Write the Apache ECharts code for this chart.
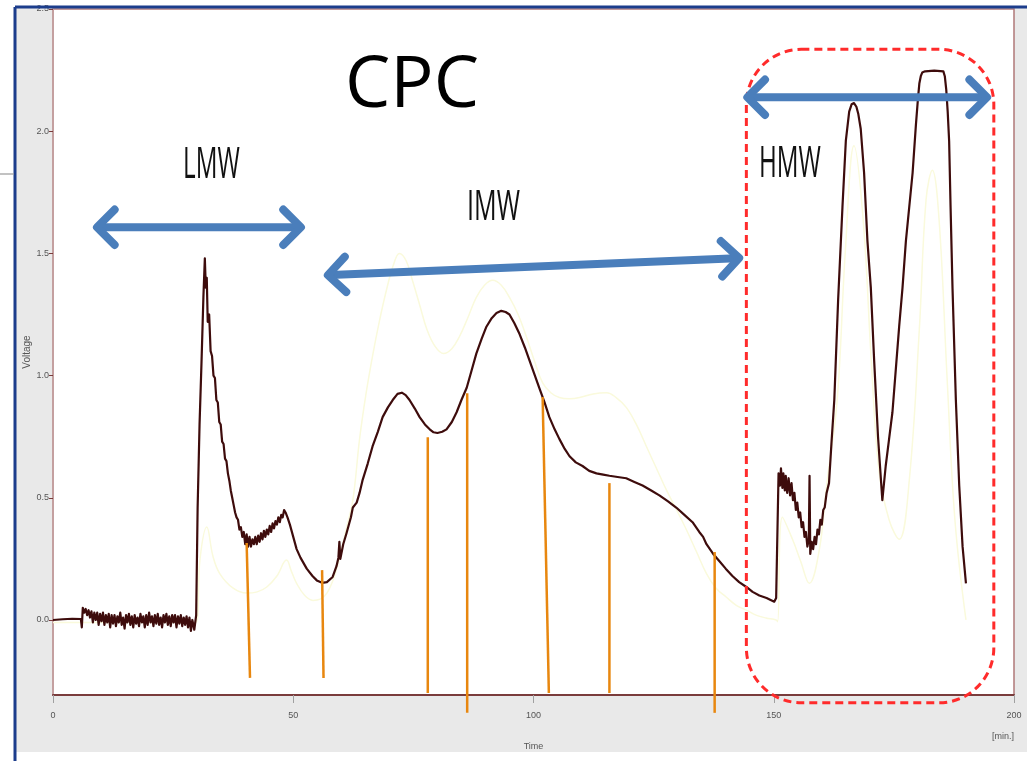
<!DOCTYPE html>
<html><head><meta charset="utf-8">
<script src="https://cdn.jsdelivr.net/npm/echarts@6/dist/echarts.min.js"></script>
<style>html,body{margin:0;padding:0;background:#fff}#c{width:1027px;height:761px}</style>
</head><body><div id="c"></div>
<script>
// ---- axis ticks ----
const xTicks = [0, 50, 100, 150, 200];
const yTicks = [0, 0.5, 1.0, 1.5, 2.0, 2.5];

// ---- main detector trace (time [min], voltage) ----
const mainTrace = [
[0,0.0],[2,0.003],[4,0.005],[5.8,0.004],[6.0,-0.03],[6.2,0.05],[6.5,0.03],[6.8,0.045],[7.1,0.02],[7.4,0.04],[7.7,0.01],[8.0,0.035],[8.3,-0.01],[8.6,0.03],[8.9,0.0],[9.2,0.03],[9.5,-0.02],[9.8,0.025],[10.1,-0.005],[10.4,0.03],[10.7,-0.02],[11.0,0.02],[11.3,-0.01],[11.6,0.025],[11.9,-0.03],[12.2,0.02],[12.5,-0.015],[12.8,0.02],[13.1,-0.025],[13.4,0.015],[13.7,-0.01],[14.0,0.03],[14.3,-0.02],[14.6,0.01],[14.9,-0.035],[15.2,0.02],[15.5,-0.01],[15.8,0.025],[16.1,-0.02],[16.4,0.015],[16.7,-0.03],[17.0,0.02],[17.3,-0.015],[17.6,0.01],[17.9,-0.025],[18.2,0.025],[18.5,-0.01],[18.8,0.015],[19.1,-0.03],[19.4,0.02],[19.7,-0.02],[20.0,0.03],[20.3,-0.01],[20.6,0.015],[20.9,-0.025],[21.2,0.02],[21.5,-0.015],[21.8,0.025],[22.1,-0.02],[22.4,0.01],[22.7,-0.03],[23.0,0.02],[23.3,-0.01],[23.6,0.025],[23.9,-0.02],[24.2,0.015],[24.5,-0.025],[24.8,0.02],[25.1,-0.01],[25.4,0.02],[25.7,-0.03],[26.0,0.015],[26.3,-0.015],[26.6,0.02],[26.9,-0.025],[27.2,0.01],[27.5,-0.02],[27.8,0.015],[28.1,-0.03],[28.4,0.01],[28.7,-0.045],[29.0,0.0],[29.4,-0.04],[29.8,0.02],
[30.1,0.46],[30.5,0.8],[30.9,1.05],[31.3,1.32],[31.6,1.48],[31.8,1.36],[32.0,1.40],[32.2,1.22],[32.5,1.25],[32.8,1.10],[33.1,1.08],[33.4,1.00],[33.7,0.99],[34.0,0.90],[34.3,0.89],[34.6,0.81],[34.9,0.80],[35.2,0.73],[35.5,0.72],[35.8,0.66],[36.1,0.65],[36.4,0.60],[36.7,0.57],[37.0,0.53],[37.3,0.50],[37.6,0.47],[37.9,0.44],[38.2,0.42],[38.5,0.41],[38.8,0.37],[39.1,0.38],[39.4,0.34],[39.7,0.36],[40.0,0.31],[40.3,0.35],[40.6,0.30],[40.9,0.34],[41.2,0.30],[41.5,0.33],[41.8,0.31],[42.1,0.34],[42.4,0.31],[42.7,0.345],[43.0,0.32],[43.3,0.355],[43.6,0.33],[43.9,0.365],[44.2,0.34],[44.5,0.37],[44.8,0.35],[45.1,0.385],[45.4,0.36],[45.7,0.395],[46.0,0.375],[46.3,0.405],[46.6,0.39],[46.9,0.42],[47.2,0.40],[47.5,0.43],[47.8,0.42],[48.1,0.45],[48.4,0.44],[48.8,0.42],[49.3,0.39],[50.0,0.34],[50.7,0.29],[51.5,0.255],[52.8,0.21],[54.0,0.18],[54.9,0.162],[56.0,0.152],[57.0,0.155],[58.2,0.176],[59.0,0.22],[59.4,0.255],[59.6,0.32],[59.8,0.25],[60.4,0.31],[61.1,0.356],[62.0,0.42],[62.4,0.46],[63.2,0.48],[63.8,0.52],
[64.4,0.57],[65.5,0.64],[66.5,0.71],[67.6,0.77],[68.6,0.83],[69.7,0.87],[70.7,0.90],[71.7,0.925],[72.6,0.93],[73.4,0.92],[74.2,0.90],[75.3,0.865],[76.3,0.83],[77.4,0.80],[78.4,0.78],[79.2,0.768],[80.0,0.765],[81.0,0.77],[81.9,0.78],[83.0,0.81],[84.0,0.85],[85.0,0.90],[86.1,0.95],[87.1,1.02],[88.1,1.09],[89.2,1.15],[90.2,1.20],[91.3,1.235],[92.3,1.256],[93.3,1.265],[94.2,1.26],[95.0,1.25],[96.0,1.215],[97.1,1.17],[98.2,1.115],[99.2,1.06],[100.2,1.005],[101.2,0.95],[102.3,0.89],[103.3,0.83],[104.4,0.78],[105.4,0.74],[106.5,0.70],[107.5,0.67],[108.8,0.645],[110.2,0.63],[111.6,0.61],[113.1,0.60],[114.5,0.595],[115.8,0.59],[117.5,0.585],[119.3,0.58],[121.0,0.565],[122.7,0.55],[124.5,0.53],[126.2,0.51],[128.0,0.485],[129.7,0.46],[131.4,0.43],[133.1,0.40],[134.5,0.36],[135.3,0.34],[136.0,0.31],[137.4,0.27],[138.7,0.24],[140.0,0.21],[141.4,0.18],[142.8,0.155],[144.3,0.135],[145.6,0.115],[147.0,0.10],[148.5,0.09],[150.1,0.075],[150.5,0.09],
[150.8,0.09],[151.0,0.60],[151.3,0.55],[151.5,0.62],[151.8,0.54],[152.0,0.60],[152.3,0.53],[152.5,0.59],[152.8,0.52],[153.1,0.58],[153.4,0.51],[153.7,0.56],[154.0,0.49],[154.3,0.52],[154.6,0.45],[154.9,0.48],[155.2,0.42],[155.5,0.44],[155.8,0.38],[156.1,0.40],[156.4,0.34],[156.7,0.36],[157.0,0.30],[157.3,0.33],[157.45,0.59],[157.6,0.27],[157.9,0.32],[158.2,0.29],[158.5,0.34],[158.8,0.31],[159.1,0.37],[159.4,0.35],[159.7,0.41],[160.0,0.39],[160.3,0.45],[160.6,0.46],[161.0,0.52],[161.5,0.56],[162.0,0.72],[162.6,0.90],[163.4,1.31],[164.3,1.69],[165.0,1.96],[165.7,2.08],[166.2,2.11],[166.7,2.115],[167.2,2.10],[167.6,2.07],[168.1,2.01],[168.8,1.83],[169.5,1.55],[170.2,1.36],[170.9,1.06],[171.7,0.75],[172.6,0.49],[173.3,0.63],[174.0,0.74],[174.7,0.85],[175.5,1.05],[176.1,1.20],[176.8,1.36],[177.5,1.55],[178.9,1.83],[179.6,2.03],[180.0,2.13],[180.3,2.195],[180.6,2.225],[180.9,2.24],[181.5,2.245],[183.4,2.248],[185.3,2.245],[185.6,2.225],[185.9,2.17],[186.2,2.08],[186.5,1.96],[186.8,1.69],[187.2,1.36],[187.9,0.90],[188.6,0.55],[189.3,0.30],[190.0,0.15]
];

// ---- faint second trace ----
const secondTrace = [
[0,-0.01],[29.7,-0.01],[30.6,0.25],[32.0,0.38],[33.3,0.26],[34.7,0.19],[37.5,0.13],[40.3,0.11],[42.5,0.115],[44.5,0.135],[46.6,0.18],[48.6,0.245],[49.6,0.2],[50.7,0.15],[52.4,0.1],[54.1,0.08],[55.6,0.085],[57.0,0.11],[58.4,0.17],[59.7,0.26],[61.0,0.37],[62.4,0.49],[63.8,0.74],[65.1,0.92],[66.5,1.08],[67.9,1.22],[69.4,1.35],[70.8,1.45],[72.1,1.50],[73.5,1.47],[74.8,1.39],[76.3,1.29],[77.8,1.19],[79.5,1.12],[81.3,1.09],[83.0,1.11],[84.6,1.16],[86.4,1.24],[88.1,1.32],[89.8,1.37],[91.5,1.39],[93.3,1.37],[95.0,1.32],[96.8,1.25],[98.5,1.16],[100.2,1.06],[101.9,0.97],[103.6,0.93],[105.4,0.91],[107.5,0.905],[109.6,0.91],[112.4,0.925],[115.2,0.93],[117.2,0.91],[119.3,0.87],[121.4,0.80],[123.5,0.71],[125.6,0.62],[127.7,0.53],[129.8,0.45],[131.8,0.37],[133.9,0.28],[136.0,0.19],[138.0,0.13],[140.1,0.094],[142.2,0.06],[144.3,0.04],[146.3,0.02],[148.4,0.008],[150.5,0.0],[150.8,-0.007],[151.8,0.42],[153.9,0.33],[155.6,0.24],[157.4,0.15],[159.5,0.29],[161.0,0.55],[163.2,0.90],[164.9,1.51],[166.7,1.94],[168.6,1.64],[170.3,1.06],[171.9,0.61],[174.0,0.41],[176.1,0.33],[178.2,0.57],[180.3,1.19],[181.7,1.72],[183.0,1.84],[184.4,1.64],[186.1,0.98],[187.7,0.41],[190.0,0.0]
];

// ---- annotations (data units: t1, v1, t2, v2) ----
const rangeArrows = [[9.15,1.607,51.6,1.607],[57.2,1.411,142.8,1.481],[144.5,2.139,194.4,2.139]];
const cutLines = [[40.3,0.315,41.0,-0.237],[56.0,0.204,56.3,-0.237],[78.0,0.748,78.0,-0.299],[86.2,0.928,86.2,-0.38],[101.9,0.912,103.2,-0.299],[115.8,0.56,115.8,-0.299],[137.7,0.278,137.7,-0.38]];
const hmwBox = [[144.3,2.335,195.8,-0.339]];
const fractionNames = ['LMW','IMW','HMW'];
const titleText = 'CPC';

const smallFont = '"Liberation Sans Narrow", "Liberation Sans", sans-serif';
const chart = echarts.init(document.getElementById('c'), null, {renderer:'canvas'});

function renderArrow(params, api){
  const p1 = api.coord([api.value(0), api.value(1)]);
  const p2 = api.coord([api.value(2), api.value(3)]);
  const dx = p2[0]-p1[0], dy = p2[1]-p1[1], L = Math.hypot(dx,dy), ux = dx/L, uy = dy/L;
  const h = 25, c = Math.SQRT1_2, s = Math.SQRT1_2;
  function head(px,py,ax,ay){
    return [[px + h*(ax*c - ay*s), py + h*(ax*s + ay*c)], [px,py], [px + h*(ax*c + ay*s), py + h*(-ax*s + ay*c)]];
  }
  const st = {stroke:'#4a7ebb', lineWidth:8, fill:null, lineCap:'round', lineJoin:'round'};
  return {type:'group', children:[
    {type:'line', shape:{x1:p1[0]+ux*3,y1:p1[1]+uy*3,x2:p2[0]-ux*3,y2:p2[1]-uy*3}, style:st},
    {type:'polyline', shape:{points:head(p1[0],p1[1],ux,uy)}, style:st},
    {type:'polyline', shape:{points:head(p2[0],p2[1],-ux,-uy)}, style:st}
  ]};
}
function renderCut(params, api){
  const p1 = api.coord([api.value(0), api.value(1)]);
  const p2 = api.coord([api.value(2), api.value(3)]);
  return {type:'line', shape:{x1:p1[0],y1:p1[1],x2:p2[0],y2:p2[1]}, style:{stroke:'#e8870f', lineWidth:2.5}};
}
function renderBox(params, api){
  const a = api.coord([api.value(0), api.value(1)]);
  const b = api.coord([api.value(2), api.value(3)]);
  return {type:'rect', shape:{x:a[0], y:a[1], width:b[0]-a[0], height:b[1]-a[1], r:55},
    style:{stroke:'#ff2b2b', lineWidth:3, fill:null, lineDash:[8,5]}};
}

const option = {
  animation:false,
  backgroundColor:'#ffffff',
  grid:{left:53, right:13, top:9, bottom:66, show:true, backgroundColor:'#ffffff', borderColor:'#b07878', borderWidth:1.5},
  xAxis:{type:'value', min:xTicks[0], max:xTicks[xTicks.length-1], interval:50,
    axisLine:{show:true, onZero:false, lineStyle:{color:'#7a3c3c', width:2}},
    axisTick:{show:true, length:8, lineStyle:{color:'#a0a0a0'}},
    axisLabel:{fontSize:9, color:'#555', margin:16, fontFamily:smallFont},
    splitLine:{show:false},
    name:'Time', nameLocation:'middle', nameGap:47, nameTextStyle:{fontSize:9, color:'#555', fontFamily:smallFont}},
  yAxis:{type:'value', min:-0.307, max:2.5,
    axisLine:{show:true, onZero:false, lineStyle:{color:'#c4a0a0', width:2}},
    axisTick:{show:true, length:4, customValues:yTicks, lineStyle:{color:'#7a3c3c'}},
    axisLabel:{customValues:yTicks, formatter:v=>v.toFixed(1), fontSize:9, color:'#555', margin:4, fontFamily:smallFont},
    splitLine:{show:false},
    name:'Voltage', nameLocation:'middle', nameGap:21, nameMoveOverlap:false, nameRotate:90, nameTextStyle:{fontSize:10, color:'#555', fontFamily:smallFont}},
  series:[
    {type:'line', data:secondTrace, showSymbol:false, symbol:'none', smooth:0.4, z:2,
      lineStyle:{color:'#fafadc', width:1.5}},
    {type:'line', data:mainTrace, showSymbol:false, symbol:'none', smooth:false, z:3,
      lineStyle:{color:'#3e0c0c', width:2.2, join:'round'}},
    {type:'custom', data:cutLines, renderItem:renderCut, clip:false, z:4, encode:{x:[0,2], y:[1,3]}},
    {type:'custom', data:hmwBox, renderItem:renderBox, clip:false, z:5, encode:{x:[0,2], y:[1,3]}},
    {type:'custom', data:rangeArrows, renderItem:renderArrow, clip:false, z:6, encode:{x:[0,2], y:[1,3]}}
  ],
  graphic:[
    {type:'rect', z:-10, shape:{x:16, y:8, width:1011, height:744}, style:{fill:'#e9e9e9'}},
    {type:'line', z:100, shape:{x1:15, y1:7, x2:15, y2:761}, style:{stroke:'#1c3d8c', lineWidth:3}},
    {type:'line', z:100, shape:{x1:15, y1:7, x2:1027, y2:7}, style:{stroke:'#1c3d8c', lineWidth:3}},
    {type:'line', z:100, shape:{x1:0, y1:174, x2:14, y2:174}, style:{stroke:'#999', lineWidth:1.2}},
    {type:'text', z:100, x:1003, y:737, style:{text:'[min.]', fill:'#555', font:'9px '+smallFont, textAlign:'center', textVerticalAlign:'middle'}},
    {type:'text', z:100, x:345, y:86, style:{text:titleText, fill:'#000', font:'72px "Open Sans"', textAlign:'left', textVerticalAlign:'middle'}},
    {type:'text', z:100, x:183, y:165, scaleX:0.55, style:{text:fractionNames[0], fill:'#111', font:'44px "Open Sans"', textAlign:'left', textVerticalAlign:'middle'}},
    {type:'text', z:100, x:467, y:208, scaleX:0.6, style:{text:fractionNames[1], fill:'#111', font:'42px "Open Sans"', textAlign:'left', textVerticalAlign:'middle'}},
    {type:'text', z:100, x:759, y:164, scaleX:0.55, style:{text:fractionNames[2], fill:'#111', font:'44px "Open Sans"', textAlign:'left', textVerticalAlign:'middle'}}
  ]
};
chart.setOption(option);
</script>
</body></html>
